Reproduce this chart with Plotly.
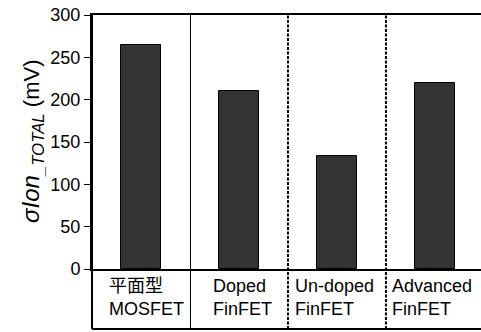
import plotly.graph_objects as go

# Device types and their total Ion variation (mV)
categories = ["平面型 MOSFET", "Doped FinFET", "Un-doped FinFET", "Advanced FinFET"]
label_line1 = ["平面型", "Doped", "Un-doped", "Advanced"]
label_line2 = ["MOSFET", "FinFET", "FinFET", "FinFET"]
sigma_ion = [265, 210, 133, 220]
y_ticks = [0, 50, 100, 150, 200, 250, 300]

W, H = 481, 332
ML, MT, MB = 92, 15, 63
plot_w = W - ML
plot_h = H - MT - MB
x_lo, x_hi = -0.5, 3.47
table_bottom = -60 / plot_h  # lower edge of the label table, in paper units

def xpaper(v):
    return (v - x_lo) / (x_hi - x_lo)

xs = list(range(len(categories)))

fig = go.Figure(go.Bar(
    x=xs, y=sigma_ion, width=0.4,
    marker=dict(color="#333333", line=dict(color="#000000", width=1)),
    hoverinfo="skip",
))

font = "Liberation Sans, Arial, Noto Sans CJK JP, sans-serif"
label_font = "Liberation Sans, Arial, Noto Sans CJK JP, sans-serif"

shapes = [
    # left border through the label table
    dict(type="line", xref="paper", yref="paper", x0=0, x1=0, y0=table_bottom, y1=1,
         line=dict(color="black", width=2)),
    # bottom of the label table
    dict(type="line", xref="paper", yref="paper", x0=0, x1=1.02, y0=table_bottom, y1=table_bottom,
         line=dict(color="black", width=2)),
    # separator between planar and FinFET groups (nudged onto a pixel centre)
    dict(type="line", xref="paper", yref="paper",
         x0=xpaper(0.5) + 0.5 / plot_w, x1=xpaper(0.5) + 0.5 / plot_w,
         y0=table_bottom, y1=1, line=dict(color="black", width=1)),
]
for b in (1.5, 2.5):
    shapes.append(dict(type="line", xref="paper", yref="paper", x0=xpaper(b), x1=xpaper(b),
                       y0=table_bottom, y1=1,
                       line=dict(color="black", width=2, dash="3px,1.5px")))

# left offsets (in category units) of each label cell's text
text_offsets = [0.155, 0.215, 0.05, 0.045]
annotations = []
for i in xs:
    annotations.append(dict(
        xref="paper", yref="paper", x=xpaper(i - 0.5 + text_offsets[i]), y=-0.02,
        xanchor="left", yanchor="top", align="left", showarrow=False,
        text=f"{label_line1[i]}<br>{label_line2[i]}",
        font=dict(family=label_font, size=18, color="black"),
    ))

annotations.append(dict(
    xref="paper", yref="paper", x=(32 - ML) / plot_w, y=0.5,
    xanchor="center", yanchor="middle", textangle=-90, showarrow=False,
    text="<i>σIon</i><sub><i>_TOTAL</i></sub><span style='font-size:22px'> (mV)</span>",
    font=dict(family=font, size=24, color="black"),
))

fig.update_layout(
    width=W, height=H,
    margin=dict(l=ML, r=0, t=MT, b=MB, pad=0),
    paper_bgcolor="white", plot_bgcolor="white",
    showlegend=False,
    bargap=0,
    xaxis=dict(range=[x_lo, x_hi], showticklabels=False, ticks="", showgrid=False,
               zeroline=False, showline=True, linecolor="black", linewidth=2, mirror=True),
    yaxis=dict(range=[0, 300], tickvals=y_ticks, ticks="outside", ticklen=6,
               tickwidth=1, tickcolor="black", showgrid=False, zeroline=False,
               showline=True, linecolor="black", linewidth=2,
               tickfont=dict(family=font, size=18, color="black")),
    shapes=shapes,
    annotations=annotations,
)

fig.write_html("out.html")
